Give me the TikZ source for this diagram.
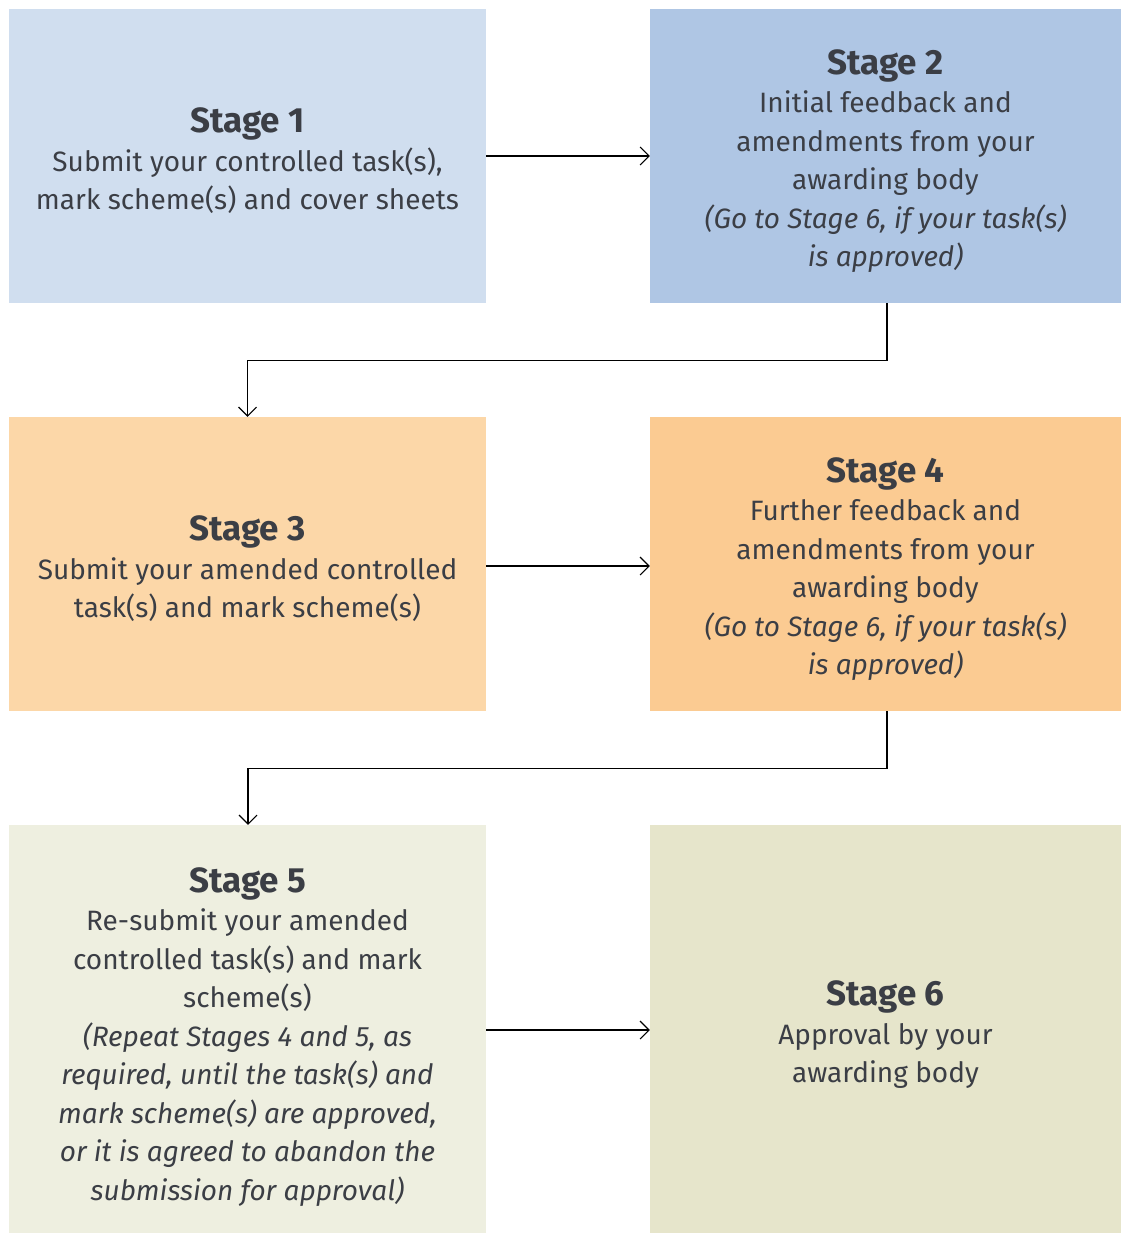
\documentclass[tikz,border=0pt]{standalone}
\usepackage{fontspec}
\setmainfont{Fira Sans}
\usetikzlibrary{arrows.meta}
\definecolor{cA}{HTML}{D0DEEF}
\definecolor{cB}{HTML}{AFC6E4}
\definecolor{cC}{HTML}{FCD7A8}
\definecolor{cD}{HTML}{FBCB92}
\definecolor{cE}{HTML}{EEEFE0}
\definecolor{cF}{HTML}{E6E5CB}
\definecolor{txt}{HTML}{3B3E45}
\newcommand{\stitle}[1]{{\fontsize{35}{40}\selectfont\bfseries #1}}
\begin{document}
\begin{tikzpicture}[x=1pt,y=-1pt,
  box/.style={draw=none, inner sep=0pt, minimum width=477pt, minimum height=294pt},
  rbox/.style={box, minimum width=471pt},
  label text/.style={inner sep=0pt, align=center, text=txt, font=\fontsize{28}{38.5}\selectfont},
  conn/.style={draw=black, line width=1.1pt, -{Straight Barb[length=9pt,width=18pt]}}]
\useasboundingbox (0,0) rectangle (1121,1233);
\node[box, fill=cA] (s1) at (247.5,156) {};
\node[rbox, fill=cB] (s2) at (885.5,156) {};
\node[box, fill=cC] (s3) at (247.5,564) {};
\node[rbox, fill=cD] (s4) at (885.5,564) {};
\node[box, fill=cE, minimum height=408pt] (s5) at (247.5,1029) {};
\node[rbox, fill=cF, minimum height=408pt] (s6) at (885.5,1029) {};
\node[label text] (t1) at ([yshift=-5pt]s1.center) {\stitle{Stage 1}\\Submit your controlled task(s),\\mark scheme(s) and cover sheets};
\node[label text] (t2) at ([yshift=-5pt]s2.center) {\stitle{Stage 2}\\Initial feedback and\\amendments from your\\awarding body\\\itshape (Go to Stage 6, if your task(s)\\\itshape is approved)};
\node[label text] (t3) at ([yshift=-5pt]s3.center) {\stitle{Stage 3}\\Submit your amended controlled\\task(s) and mark scheme(s)};
\node[label text] (t4) at ([yshift=-5pt]s4.center) {\stitle{Stage 4}\\Further feedback and\\amendments from your\\awarding body\\\itshape (Go to Stage 6, if your task(s)\\\itshape is approved)};
\node[label text] (t5) at ([yshift=-8pt]s5.center) {\stitle{Stage 5}\\Re-submit your amended\\controlled task(s) and mark\\scheme(s)\\\itshape (Repeat Stages 4 and 5, as\\\itshape required, until the task(s) and\\\itshape mark scheme(s) are approved,\\\itshape or it is agreed to abandon the\\\itshape submission for approval)};
\node[label text] (t6) at ([yshift=-6pt]s6.center) {\stitle{Stage 6}\\Approval by your\\awarding body};
\draw[conn] (s1.east) -- (s2.west);
\draw[conn] ([yshift=-2pt]s3.east) -- ([yshift=-2pt]s4.west);
\draw[conn] ([yshift=-1pt]s5.east) -- ([yshift=-1pt]s6.west);
\draw[conn] ([xshift=1.5pt]s2.south) -- ++(0,57) -| (s3.north);
\draw[conn] ([xshift=1.5pt]s4.south) -- ++(0,57) -| ([xshift=0.5pt]s5.north);
\end{tikzpicture}
\end{document}
